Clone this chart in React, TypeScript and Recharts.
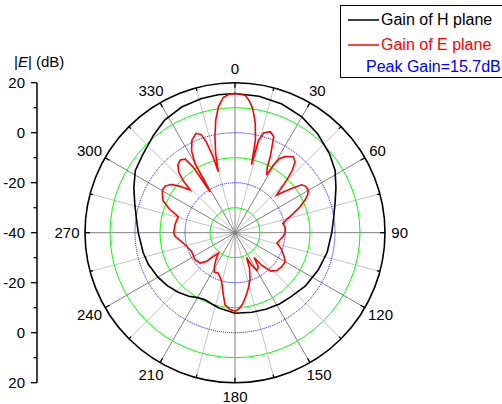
import React from "react";
import {
  Legend,
  Line,
  LineChart,
  PolarAngleAxis,
  PolarGrid,
  PolarRadiusAxis,
  Radar,
  RadarChart,
  XAxis,
  YAxis,
} from "recharts";

// angles in degrees, clockwise from the top (0)
const H_ANGLES = [
  0, 10, 20, 30, 40, 50, 58, 66, 74, 82, 90, 102, 114, 127, 139, 148, 158,
  168, 180, 192, 198, 204, 210, 216, 224, 232, 240, 250, 258, 270, 278, 286,
  294, 302, 310, 320, 328, 337, 346, 353,
];
const H_GAIN = [
  15.7, 15.4, 14.8, 13.5, 11.5, 9.3, 7.2, 4.2, 1.6, -0.2, -1.3, -2.3, -3.5,
  -4.7, -6.0, -6.4, -7.0, -7.5, -7.8, -9.2, -10.0, -10.6, -10.0, -8.6, -7.0,
  -5.6, -4.4, -3.1, -2.4, -1.3, -0.2, 1.7, 4.3, 7.0, 8.3, 10.8, 13.1, 14.6,
  15.3, 15.6,
];

const E_ANGLES = [
  0, 2, 4.3, 6, 7.7, 9, 10.5, 12.4, 13.1, 13.6, 14.3, 16, 19.3, 22, 24.9, 26.4,
  28.8, 29.5, 31, 33.3, 37.5, 40.2, 42.5, 44.5, 47.9, 50, 52.2, 54.2, 56.5,
  59.8, 62.5, 65, 68.5, 71.7, 75.5, 79, 84, 90, 95, 100, 104, 109, 115, 120,
  126, 132, 137, 140.5, 142.5, 145.5, 150, 153, 155, 158, 162, 166, 170, 174,
  177, 180, 183.7, 187.9, 190.7, 195.3, 202.5, 208, 212, 215.5, 219.3, 222.5,
  224.7, 229, 236, 246.7, 258.7, 266.5, 270, 278, 285.8, 290, 294, 297.4,
  300.5, 303.7, 307, 310, 313.5, 315, 317, 320, 323, 326, 327.5, 328.6, 330,
  332, 335, 338.6, 341, 342.5, 343.8, 344.7, 346.3, 348.2, 350.3, 352.5, 355,
  357.5,
];
const E_GAIN = [
  15.7, 15.5, 15.0, 13.3, 10.8, 8.0, 4.5, -2.0, -8.0, -12.0, -2.0, 1.5, 2.8,
  1.4, -6.5, -11.0, -13.7, -8.9, -5.5, -3.6, -1.7, -2.8, -6.0, -10.5, -17.6,
  -14.5, -11.0, -7.2, -6.2, -6.1, -7.2, -9.1, -12.2, -15.4, -18.6, -20.5,
  -19.8, -19.9, -20.8, -22.0, -22.7, -20.5, -18.5, -16.8, -16.9, -17.4, -19.0,
  -23.0, -27.5, -23.5, -22.5, -25.5, -29.0, -24.5, -20.5, -17.5, -14.5, -11.2,
  -9.5, -8.6, -9.2, -10.9, -14.8, -19.8, -22.5, -22.2, -24.5, -27.0, -29.5,
  -27.2, -23.9, -21.5, -20.7, -21.1, -18.9, -16.0, -15.5, -15.8, -16.4, -12.0,
  -8.5, -7.3, -6.3, -6.4, -8.0, -11.0, -15.2, -11.0, -7.0, -4.5, -3.6, -4.5,
  -9.0, -21.0, -8.0, -3.0, 0.8, 2.7, 1.5, -2.0, -8.0, -14.7, -7.3, -0.8, 5.7,
  10.8, 14.3, 15.4,
];

const ANGLE_TICKS = [
  0, 15, 30, 45, 60, 75, 90, 105, 120, 135, 150, 165, 180, 195, 210, 225, 240,
  255, 270, 285, 300, 315, 330, 345,
];
const DB_MIN = -40;
const DB_MAX = 20;
const GREEN_RINGS = [-30, -10, 10];
const BLUE_RINGS = [-20, 0];
// left axis is the radial scale mirrored above and below the centre
const LEFT_TICKS = [-60, -50, -40, -30, -20, -10, 0, 10, 20, 30, 40, 50, 60];
const PEAK_GAIN = 15.7;

const SERIES = [
  { key: "h", name: "Gain of H plane", color: "#000000" },
  { key: "e", name: "Gain of E plane", color: "#ff0000" },
];

const CX = 235;
const CY = 232.7;
const OUTER = 150;
const FONT = '"Liberation Sans", Arial, sans-serif';

const ringPx = (db: number) => ((db - DB_MIN) / (DB_MAX - DB_MIN)) * OUTER;
const chartAngle = (a: number) => 90 - a;

const hRows = H_ANGLES.map((angle, i) => ({ angle, h: H_GAIN[i] }));
const eRows = E_ANGLES.map((angle, i) => ({ angle, e: E_GAIN[i] }));

const majorSpokes = ANGLE_TICKS.filter((a) => a % 30 === 0).map(chartAngle);
const minorSpokes = ANGLE_TICKS.filter((a) => a % 30 !== 0).map(chartAngle);

function AngleTick(props: any) {
  const a = Number(props.payload?.value ?? 0);
  const rad = (a * Math.PI) / 180;
  const s = Math.sin(rad);
  const c = Math.cos(rad);
  const major = a % 30 === 0;
  const len = major ? 5 : 3;
  const label = String(a);
  const w = label.length * 8.34;
  const lx = CX + 158 * s + s * w * 0.4;
  const ly = CY - 158 * c - c * 6;
  return (
    <g>
      <line
        x1={CX + OUTER * s}
        y1={CY - OUTER * c}
        x2={CX + (OUTER - len) * s}
        y2={CY - (OUTER - len) * c}
        stroke="#000"
        strokeWidth={1.3}
      />
      {major && (
        <text
          x={lx}
          y={ly + 5.4}
          textAnchor="middle"
          fontFamily={FONT}
          fontSize={15}
          fill="#000"
        >
          {label}
        </text>
      )}
    </g>
  );
}

function LeftTick(props: any) {
  const { x, y, payload } = props;
  const v = Number(payload.value);
  const major = v % 20 === 0;
  return (
    <g>
      <line
        x1={x - (major ? 6 : 3.5)}
        x2={x}
        y1={y}
        y2={y}
        stroke="#000"
        strokeWidth={1.3}
      />
      {major && (
        <text
          x={x - 12}
          y={y + 5}
          textAnchor="end"
          fontFamily={FONT}
          fontSize={15}
          fill="#000"
        >
          {Math.abs(v) + DB_MIN}
        </text>
      )}
    </g>
  );
}

const renderLegend = () => (
  <div
    style={{
      position: "relative",
      width: 200,
      height: 73,
      border: "1px solid #000",
      boxSizing: "border-box",
      background: "#fff",
      fontFamily: FONT,
      fontSize: 16,
      lineHeight: "18px",
    }}
  >
    {SERIES.map((s, i) => (
      <div
        key={s.key}
        style={{
          position: "absolute",
          left: 7,
          top: 4.5 + i * 25.5,
          height: 18,
          display: "flex",
          alignItems: "center",
          whiteSpace: "nowrap",
          color: s.color,
        }}
      >
        <svg width={33} height={18} style={{ display: "block" }}>
          <line x1={0} x2={31} y1={9} y2={9} stroke={s.color} strokeWidth={1.5} />
        </svg>
        <span>{s.name}</span>
      </div>
    ))}
    <div
      style={{
        position: "absolute",
        left: 25,
        top: 52,
        whiteSpace: "nowrap",
        color: "#0000ff",
      }}
    >
      Peak Gain={PEAK_GAIN}dB
    </div>
  </div>
);

function PolarAxes({ showTicks }: { showTicks: boolean }) {
  return (
    <>
      <PolarAngleAxis
        dataKey="angle"
        type="number"
        domain={[0, 360]}
        ticks={ANGLE_TICKS}
        axisLine={false}
        tickLine={false}
        tick={showTicks ? (p: any) => <AngleTick {...p} /> : false}
      />
      <PolarRadiusAxis
        type="number"
        domain={[DB_MIN, DB_MAX]}
        tick={false}
        axisLine={false}
      />
    </>
  );
}

const layer: React.CSSProperties = { position: "absolute", left: 0, top: 0 };

export default function App() {
  const [h, e] = SERIES;
  return (
    <div
      style={{
        position: "absolute",
        left: 0,
        top: 0,
        width: 502,
        height: 404,
        overflow: "hidden",
        background: "#fff",
      }}
    >
      <div style={layer}>
        <LineChart
          width={90}
          height={404}
          data={LEFT_TICKS.map((v) => ({ v }))}
          margin={{ top: CY - OUTER, right: 0, bottom: 404 - (CY + OUTER), left: 0 }}
        >
          <XAxis dataKey="v" hide />
          <YAxis
            type="number"
            domain={[-60, 60]}
            ticks={LEFT_TICKS}
            interval={0}
            width={37}
            tickSize={0}
            tickMargin={0}
            tickLine={false}
            axisLine={{ stroke: "#000", strokeWidth: 1.5 }}
            tick={(p: any) => <LeftTick {...p} />}
            label={{
              content: () => (
                <text x={14} y={67} fontFamily={FONT} fontSize={15} fill="#000">
                  |<tspan fontStyle="italic">E</tspan>| (dB)
                </text>
              ),
            }}
          />
          <Line dataKey="v" stroke="none" dot={false} isAnimationActive={false} />
        </LineChart>
      </div>

      <div style={layer}>
        <RadarChart
          width={502}
          height={404}
          data={hRows}
          cx={CX}
          cy={CY}
          outerRadius={OUTER}
          margin={{ top: 0, right: 0, bottom: 0, left: 0 }}
        >
          <PolarGrid
            gridType="circle"
            polarAngles={minorSpokes}
            polarRadius={[]}
            stroke="#c4c4c4"
            strokeWidth={1}
          />
          <PolarGrid
            gridType="circle"
            polarAngles={majorSpokes}
            polarRadius={[]}
            stroke="#808080"
            strokeWidth={1}
          />
          <PolarGrid
            gridType="circle"
            radialLines={false}
            polarAngles={[]}
            polarRadius={GREEN_RINGS.map(ringPx)}
            stroke="#00ff00"
            strokeWidth={1}
          />
          <PolarGrid
            gridType="circle"
            radialLines={false}
            polarAngles={[]}
            polarRadius={BLUE_RINGS.map(ringPx)}
            stroke="#0000ff"
            strokeWidth={1}
            strokeDasharray="1 1"
          />
          <PolarGrid
            gridType="circle"
            radialLines={false}
            polarAngles={[]}
            polarRadius={[OUTER]}
            stroke="#000"
            strokeWidth={1.6}
          />
          {PolarAxes({ showTicks: true })}
          <Radar
            name={h.name}
            dataKey={h.key}
            stroke={h.color}
            strokeWidth={1.6}
            fill="none"
            fillOpacity={0}
            dot={false}
            isAnimationActive={false}
          />
        </RadarChart>
      </div>

      <div style={layer}>
        <RadarChart
          width={502}
          height={404}
          data={eRows}
          cx={CX}
          cy={CY}
          outerRadius={OUTER}
          margin={{ top: 0, right: 0, bottom: 0, left: 0 }}
        >
          {PolarAxes({ showTicks: false })}
          <Radar
            name={e.name}
            dataKey={e.key}
            stroke={e.color}
            strokeWidth={1.6}
            fill="none"
            fillOpacity={0}
            dot={false}
            isAnimationActive={false}
          />
          <Legend
            content={renderLegend}
            wrapperStyle={{ left: 340, top: 5, width: 200, height: 73 }}
          />
        </RadarChart>
      </div>
    </div>
  );
}
